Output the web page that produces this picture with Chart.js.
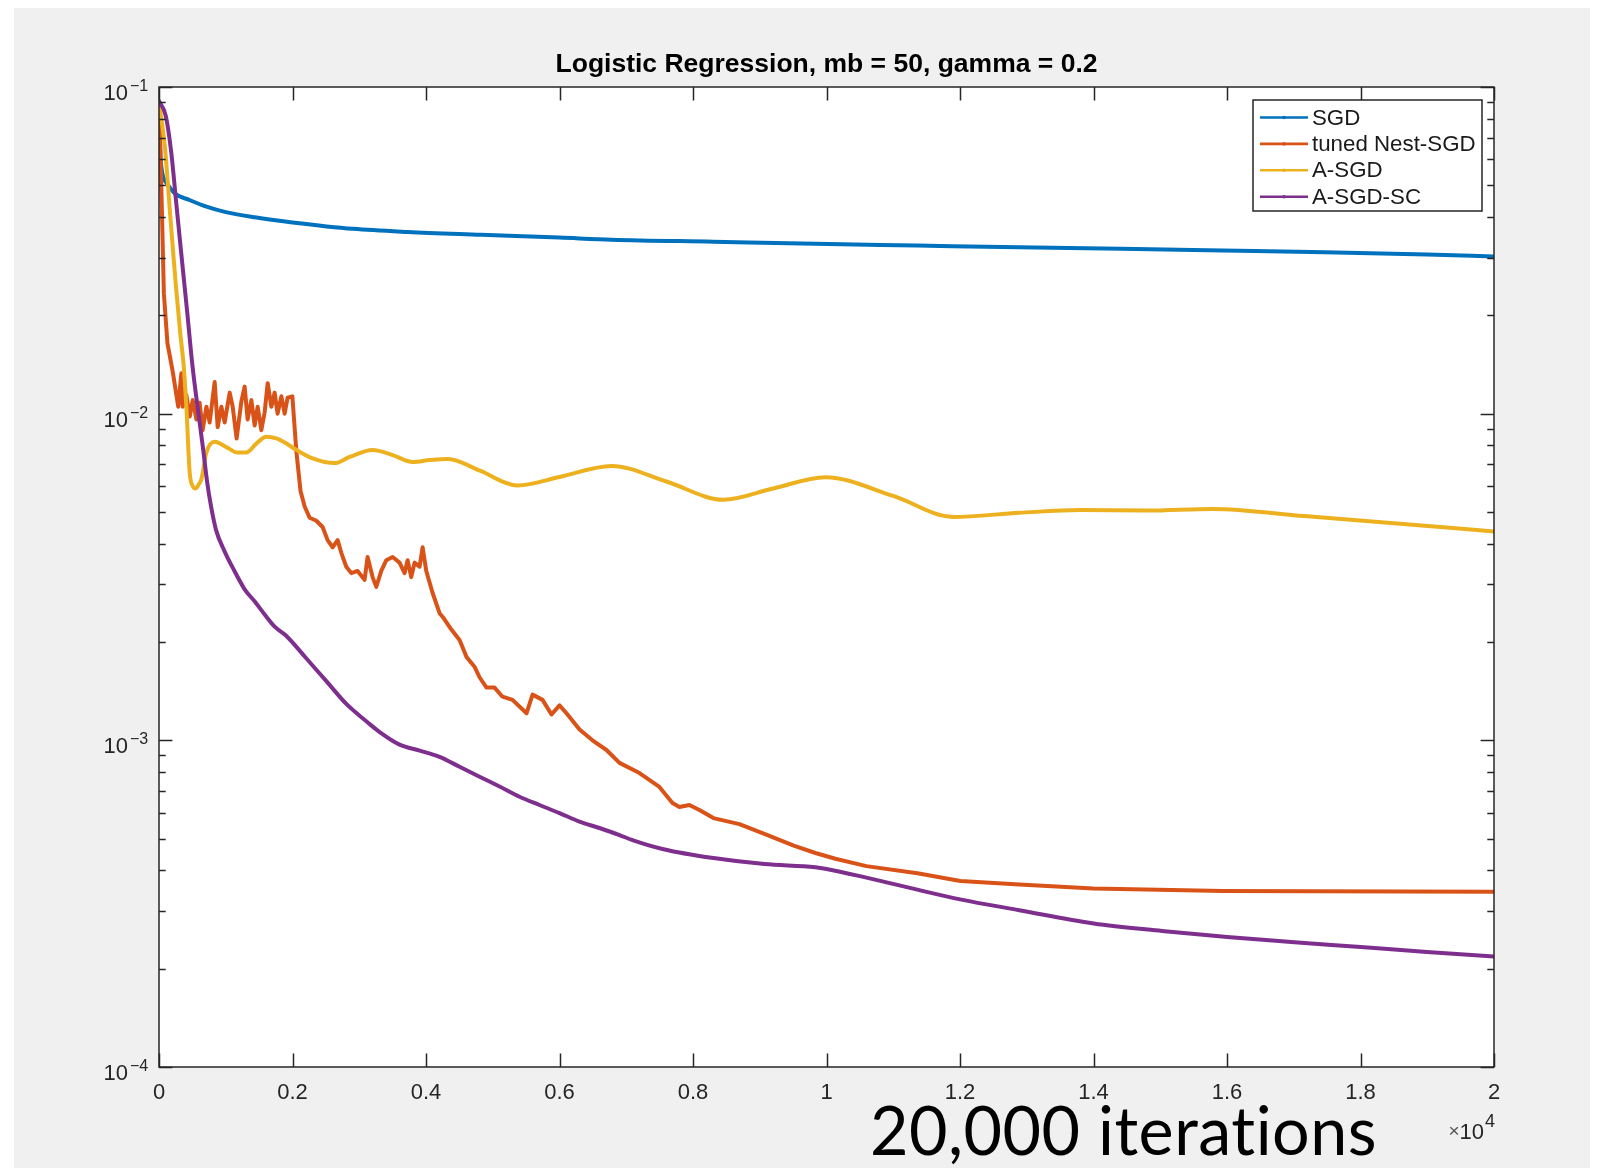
<!DOCTYPE html>
<html>
<head>
<meta charset="utf-8">
<title>Logistic Regression, mb = 50, gamma = 0.2</title>
<script src="https://cdn.jsdelivr.net/npm/chart.js@4.4.1/dist/chart.umd.min.js"></script>
<style>
  html, body { margin: 0; padding: 0; background: #ffffff; }
  canvas { display: block; }
</style>
</head>
<body>
<canvas id="myChart" width="1599" height="1168"></canvas>
<script>
// data ----------------------------------------------------------------------
const seriesNames = ['SGD', 'tuned Nest-SGD', 'A-SGD', 'A-SGD-SC'];
const seriesColors = ['#0072bd', '#d95319', '#edb120', '#7e2f8e'];

const sgdIter = [0, 25, 115, 244, 443, 700, 1000, 1435, 2000, 2908, 3726, 4826, 6000, 6779, 8300,
  9834, 11361, 12888, 14415, 15942, 17469, 18996, 20000];
const sgdLoss = [0.09, 0.0598, 0.0508, 0.0471, 0.0452, 0.0431, 0.0414, 0.0399, 0.0385, 0.0368, 0.0360, 0.0353, 0.0346, 0.0341, 0.0336,
  0.0331, 0.0327, 0.0323, 0.0320, 0.0316, 0.0312, 0.0307, 0.0303];

const nestIter = [0, 21, 48, 73, 127, 207, 288, 335, 355, 410,
  460, 505, 560, 609, 654, 710, 759, 834, 879, 934,
  984, 1059, 1104, 1163, 1234, 1283, 1328, 1384, 1433, 1478,
  1533, 1583, 1628, 1683, 1732, 1777, 1833, 1882, 1927, 1998,
  2057, 2120, 2182, 2257, 2357, 2451, 2526, 2601, 2676, 2731,
  2806, 2881, 2975, 3080, 3125, 3200, 3255, 3330, 3405, 3500,
  3604, 3679, 3724, 3779, 3829, 3904, 3949, 4004, 4098, 4203,
  4248, 4383, 4503, 4607, 4727, 4802, 4907, 5027, 5146, 5296,
  5506, 5596, 5746, 5880, 6000, 6105, 6300, 6494, 6704, 6899,
  7198, 7497, 7692, 7797, 7946, 8096, 8306, 8695, 9069, 9519,
  9834, 10134, 10598, 11362, 12006, 12889, 13997, 15944, 20000];
const nestLoss = [0.0901, 0.0636, 0.0385, 0.0233, 0.0164, 0.0134, 0.0105, 0.0133, 0.0105, 0.0114,
  0.0098, 0.0110, 0.0096, 0.0108, 0.0089, 0.0105, 0.0094, 0.0125, 0.0091, 0.0105,
  0.0094, 0.0116, 0.0105, 0.0084, 0.0109, 0.0121, 0.0096, 0.0110, 0.0092, 0.0105,
  0.0089, 0.0101, 0.0124, 0.0105, 0.0116, 0.0100, 0.0113, 0.0100, 0.0112, 0.0113,
  0.0077, 0.0058, 0.0052, 0.0048, 0.0047, 0.0045, 0.0041, 0.0039, 0.0041, 0.00375,
  0.0034, 0.00325, 0.0033, 0.0031, 0.00364, 0.00316, 0.00295, 0.0033, 0.00356, 0.00364,
  0.0035, 0.00325, 0.00356, 0.00316, 0.0035, 0.0034, 0.0039, 0.0033, 0.00283, 0.00245,
  0.00239, 0.00218, 0.00203, 0.0018, 0.00168, 0.00156, 0.00145, 0.00145, 0.00136, 0.00133,
  0.00121, 0.00138, 0.00133, 0.0012, 0.00128, 0.00121, 0.00108, 0.001, 0.000934, 0.000853,
  0.000794, 0.00072, 0.000643, 0.000625, 0.000634, 0.000612, 0.000578, 0.000554, 0.000517, 0.000475,
  0.000452, 0.000434, 0.000412, 0.000392, 0.000371, 0.000362, 0.000352, 0.000346, 0.000344];

const asgdIter = [0, 90, 170, 250, 320, 370, 410, 460, 505, 545,
  600, 635, 710, 834, 1009, 1178, 1309, 1458, 1608, 1758,
  1908, 2057, 2302, 2631, 2856, 3200, 3500, 3799, 4054, 4333,
  4800, 5372, 6000, 6779, 7600, 8456, 9200, 9983, 11000, 11893,
  12888, 13800, 14800, 15787, 17158, 18685, 20000];
const asgdLoss = [0.09, 0.065, 0.040, 0.025, 0.0175, 0.0140, 0.0105, 0.0066, 0.0060, 0.0059,
  0.0061, 0.0063, 0.0076, 0.0082, 0.0079, 0.0076, 0.0076, 0.0081, 0.0085, 0.0084,
  0.0081, 0.00775, 0.0073, 0.00706, 0.00737, 0.00774, 0.00747, 0.00711, 0.00721, 0.00727,
  0.0067, 0.00603, 0.0064, 0.00692, 0.0062, 0.00545, 0.0059, 0.00639, 0.0056, 0.00483,
  0.00497, 0.00507, 0.00505, 0.00511, 0.00486, 0.00459, 0.00436];

const scIter = [0, 100, 181, 261, 340, 421, 500, 580, 661, 720,
  780, 855, 977, 1130, 1283, 1435, 1588, 1741, 1893, 2199,
  2504, 2810, 3115, 3306, 3605, 3904, 4203, 4503, 4802, 5102,
  5401, 5700, 6000, 6299, 6599, 6899, 7093, 7543, 8307, 9070,
  9834, 10002, 10598, 11361, 12002, 12888, 14003, 15026, 16003, 17011,
  18003, 18996, 20000];
const scLoss = [0.0905, 0.0818, 0.0637, 0.0436, 0.0300, 0.0206, 0.0141, 0.0104, 0.0078, 0.0062,
  0.0052, 0.0044, 0.00381, 0.0033, 0.0029, 0.00266, 0.00242, 0.00222, 0.0021, 0.00179,
  0.00152, 0.00129, 0.00114, 0.00106, 0.00097, 0.00093, 0.00089, 0.00083, 0.000774, 0.000722,
  0.000672, 0.000634, 0.000599, 0.000564, 0.000539, 0.000513, 0.000495, 0.000465, 0.000436, 0.000418,
  0.000409, 0.000404, 0.00038, 0.000349, 0.000326, 0.000302, 0.000275, 0.000261, 0.00025, 0.000241,
  0.000233, 0.000225, 0.000218];

// tick labels
const xTickValues = [0, 2000, 4000, 6000, 8000, 10000, 12000, 14000, 16000, 18000, 20000];
const xTickLabels = ['0', '0.2', '0.4', '0.6', '0.8', '1', '1.2', '1.4', '1.6', '1.8', '2'];
const yTickValues = [1e-4, 1e-3, 1e-2, 1e-1];
const yTickExponents = ['\u22124', '\u22123', '\u22122', '\u22121'];
const xExponentLabel = '4';
const chartTitle = 'Logistic Regression, mb = 50, gamma = 0.2';
const noteText = '20,000 iterations';

// helpers ----------------------------------------------------------------
function toPoints(xs, ys) {
  return xs.map((x, i) => ({ x: x, y: ys[i] }));
}

const FONT = "'Liberation Sans', Arial, Helvetica, sans-serif";
const AXIS_COLOR = '#262626';

// background, matlab-style box with inward ticks, labels and legend
const matlabAxes = {
  id: 'matlabAxes',
  beforeDraw(chart) {
    const ctx = chart.ctx;
    const a = chart.chartArea;
    ctx.save();
    ctx.fillStyle = '#ffffff';
    ctx.fillRect(0, 0, chart.width, chart.height);
    ctx.fillStyle = '#f0f0f0';
    ctx.fillRect(14, 8, 1576, chart.height - 8);
    ctx.fillStyle = '#ffffff';
    ctx.fillRect(a.left, a.top, a.right - a.left, a.bottom - a.top);
    ctx.restore();
  },
  afterDatasetsDraw(chart) {
    const ctx = chart.ctx;
    const a = chart.chartArea;
    const xs = chart.scales.x;
    const ys = chart.scales.y;
    const majorLen = 13.4;
    const minorLen = 6.7;

    ctx.save();
    ctx.strokeStyle = AXIS_COLOR;
    ctx.lineWidth = 1.5;
    ctx.beginPath();

    // x ticks, bottom and top
    xTickValues.forEach(v => {
      const px = Math.round(xs.getPixelForValue(v)) + 0.5;
      ctx.moveTo(px, a.bottom); ctx.lineTo(px, a.bottom - majorLen);
      ctx.moveTo(px, a.top); ctx.lineTo(px, a.top + majorLen);
    });

    // y major ticks
    yTickValues.forEach(v => {
      const py = Math.round(ys.getPixelForValue(v)) + 0.5;
      ctx.moveTo(a.left, py); ctx.lineTo(a.left + majorLen, py);
      ctx.moveTo(a.right, py); ctx.lineTo(a.right - majorLen, py);
    });

    // y minor ticks (2..9 in each decade)
    for (let k = 0; k < yTickValues.length - 1; k++) {
      for (let m = 2; m <= 9; m++) {
        const py = Math.round(ys.getPixelForValue(m * yTickValues[k])) + 0.5;
        ctx.moveTo(a.left, py); ctx.lineTo(a.left + minorLen, py);
        ctx.moveTo(a.right, py); ctx.lineTo(a.right - minorLen, py);
      }
    }
    ctx.stroke();

    // box
    ctx.strokeRect(a.left, a.top, a.right - a.left, a.bottom - a.top);

    // legend
    const lx = 1253, ly = 100, lw = 229, lh = 111;
    ctx.fillStyle = '#ffffff';
    ctx.fillRect(lx, ly, lw, lh);
    ctx.lineWidth = 1.5;
    ctx.strokeStyle = AXIS_COLOR;
    ctx.strokeRect(lx, ly, lw, lh);
    ctx.font = '22.3px ' + FONT;
    ctx.textBaseline = 'middle';
    ctx.textAlign = 'left';
    chart.data.datasets.forEach((ds, i) => {
      const ry = 117.5 + i * 26.4;
      ctx.strokeStyle = ds.borderColor;
      ctx.lineWidth = 2.6;
      ctx.beginPath();
      ctx.moveTo(1260, ry); ctx.lineTo(1308, ry);
      ctx.stroke();
      ctx.fillStyle = ds.borderColor;
      ctx.beginPath();
      ctx.arc(1284, ry, 1.8, 0, Math.PI * 2);
      ctx.fill();
      ctx.fillStyle = '#1a1a1a';
      ctx.fillText(ds.label, 1312, ry + 1);
    });
    ctx.restore();
  },
  afterDraw(chart) {
    const ctx = chart.ctx;
    const a = chart.chartArea;
    const xs = chart.scales.x;
    const ys = chart.scales.y;

    ctx.save();
    ctx.fillStyle = AXIS_COLOR;

    // x tick labels
    ctx.font = '22px ' + FONT;
    ctx.textAlign = 'center';
    ctx.textBaseline = 'alphabetic';
    xTickValues.forEach((v, i) => {
      ctx.fillText(xTickLabels[i], xs.getPixelForValue(v), a.bottom + 32);
    });

    // y tick labels: 10 with superscript exponent
    yTickValues.forEach((v, i) => {
      const py = ys.getPixelForValue(v);
      ctx.font = '22px ' + FONT;
      ctx.textAlign = 'right';
      ctx.fillText('10', a.left - 31, py + 13);
      ctx.font = '16px ' + FONT;
      ctx.textAlign = 'left';
      ctx.fillText(yTickExponents[i], a.left - 29, py + 4);
    });

    // x10^4 multiplier, laid out right to left from the axis end
    ctx.textAlign = 'right';
    ctx.font = '18px ' + FONT;
    ctx.fillText(xExponentLabel, a.right + 1, 1127);
    const w4 = ctx.measureText(xExponentLabel).width;
    ctx.font = '22px ' + FONT;
    ctx.fillText('10', a.right - w4, 1139);
    const w10 = ctx.measureText('10').width;
    ctx.font = '19px ' + FONT;
    ctx.fillStyle = '#555555';
    ctx.fillText('\u00d7', a.right - w4 - w10, 1137);

    // slide annotation
    ctx.fillStyle = '#000000';
    ctx.font = "68px Lato, 'Open Sans', sans-serif";
    ctx.textAlign = 'left';
    ctx.textRendering = 'optimizeSpeed';
    ctx.letterSpacing = '0.5px';
    const nw = ctx.measureText(noteText).width;
    ctx.translate(870, 1155);
    ctx.scale(507 / nw, 1);
    ctx.fillText(noteText, 0, 0);
    ctx.restore();
  }
};

// chart.js chart ---------------------------------------------------------
const seriesIters = [sgdIter, nestIter, asgdIter, scIter];
const seriesLosses = [sgdLoss, nestLoss, asgdLoss, scLoss];

const datasets = seriesNames.map((name, i) => {
  const smooth = i !== 1; // nest-sgd is jagged
  return {
    label: name,
    data: toPoints(seriesIters[i], seriesLosses[i]),
    borderColor: seriesColors[i],
    backgroundColor: seriesColors[i],
    borderWidth: 4,
    pointRadius: 0,
    fill: false,
    tension: smooth ? 0.4 : 0,
    cubicInterpolationMode: smooth ? 'monotone' : 'default',
    borderJoinStyle: 'round',
    borderCapStyle: 'round',
    order: 4 - i
  };
});

const ctx = document.getElementById('myChart').getContext('2d');
const myChart = new Chart(ctx, {
  type: 'line',
  data: { datasets: datasets },
  options: {
    responsive: false,
    animation: false,
    devicePixelRatio: 1,
    layout: { padding: { left: 159, right: 105, top: 0, bottom: 101 } },
    scales: {
      x: { type: 'linear', min: 0, max: 20000, display: false },
      y: { type: 'logarithmic', min: 1e-4, max: 1e-1, display: false }
    },
    plugins: {
      legend: { display: false },
      tooltip: { enabled: false },
      title: {
        display: true,
        text: chartTitle,
        color: '#000000',
        font: { family: FONT, size: 26.5, weight: 'bold' },
        padding: { top: 49, bottom: 6.2 }
      }
    }
  },
  plugins: [matlabAxes]
});
</script>
</body>
</html>
